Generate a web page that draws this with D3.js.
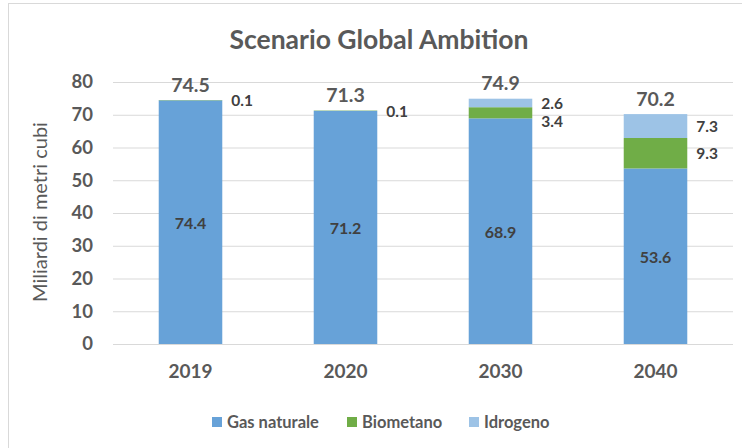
<!DOCTYPE html>
<html>
<head>
<meta charset="utf-8">
<script src="https://cdn.jsdelivr.net/npm/d3@7"></script>
<style>
  body { margin: 0; background: #fff; }
  text { font-family: Lato, "Open Sans", sans-serif; }
</style>
</head>
<body>
<svg id="chart" width="742" height="448"></svg>
<script>
// Data
const years = ["2019", "2020", "2030", "2040"]
const series = ["Gas naturale", "Biometano", "Idrogeno"]
const gasNaturale = [74.4, 71.2, 68.9, 53.6]
const biometano = [0.1, 0.1, 3.4, 9.3]
const idrogeno = [0, 0, 2.6, 7.3]
const totals = [74.5, 71.3, 74.9, 70.2]
const yTicks = [0, 10, 20, 30, 40, 50, 60, 70, 80]
const colours = ["#67A2D8", "#70AD47", "#9DC3E6"]

const svg = d3.select("#chart")
const grey = "#595959"

// frame
svg.append("rect")
    .attr("x", 8.5).attr("y", 3.5)
    .attr("width", 760).attr("height", 460)
    .attr("fill", "none").attr("stroke", "#d9d9d9")

const x = d3.scaleBand().domain(years).range([113, 733]).paddingInner(0.59).paddingOuter(0.295)
const y = d3.scaleLinear().domain([0, 80]).range([344, 82])

// gridlines
svg.append("g").selectAll("line").data(yTicks).join("line")
    .attr("x1", 113).attr("x2", 733)
    .attr("y1", d => y(d) + 0.5).attr("y2", d => y(d) + 0.5)
    .attr("stroke", "#d9d9d9").attr("stroke-width", 1)

// y axis tick labels
const yAxis = svg.append("g").attr("transform", "translate(93,0)")
    .call(d3.axisLeft(y).tickValues(yTicks).tickSize(0).tickPadding(0))
yAxis.select(".domain").remove()
yAxis.selectAll("text")
    .attr("fill", grey).attr("font-size", 18.5).attr("font-weight", "bold")
    .style("font-family", "Lato, sans-serif")

// x axis labels
const xAxis = svg.append("g").attr("transform", "translate(0,364)")
    .call(d3.axisBottom(x).tickSize(0).tickPadding(0))
xAxis.select(".domain").remove()
xAxis.selectAll("text")
    .attr("fill", grey).attr("font-size", 19).attr("font-weight", "bold")
    .style("font-family", "Lato, sans-serif")

// stack
const rows = years.map((yr, i) => ({year: yr, "Gas naturale": gasNaturale[i], "Biometano": biometano[i], "Idrogeno": idrogeno[i]}))
const stacked = d3.stack().keys(series)(rows)

svg.append("g").selectAll("g").data(stacked).join("g")
    .attr("fill", (d, i) => colours[i])
    .selectAll("rect").data(d => d).join("rect")
    .attr("x", d => x(d.data.year))
    .attr("width", x.bandwidth())
    .attr("y", d => y(d[1]))
    .attr("height", d => y(d[0]) - y(d[1]))

// gas labels inside bars
svg.append("g").selectAll("text").data(stacked[0]).join("text")
    .attr("x", d => x(d.data.year) + x.bandwidth() / 2)
    .attr("y", d => (y(d[0]) + y(d[1])) / 2)
    .attr("text-anchor", "middle").attr("dominant-baseline", "central")
    .attr("font-size", 16).attr("font-weight", "bold").attr("fill", "#404040")
    .text(d => d[1] - d[0] > 0 ? d3.format(".1f")(d.data["Gas naturale"]) : "")

// side labels for biometano / idrogeno, pushed apart when too close
years.forEach((yr, i) => {
    let prevY = null
    for (let s = 2; s >= 1; s--) {
        const seg = stacked[s][i]
        const val = rows[i][series[s]]
        if (!val) continue
        let ly = (y(seg[0]) + y(seg[1])) / 2
        if (prevY !== null && ly - prevY < 18) ly = prevY + 18
        prevY = ly
        svg.append("text")
            .attr("x", x(yr) + x.bandwidth() + 9)
            .attr("y", ly)
            .attr("dominant-baseline", "central")
            .attr("font-size", 15.5).attr("font-weight", "bold").attr("fill", "#404040")
            .text(d3.format(".1f")(val))
    }
})

// totals
svg.append("g").selectAll("text").data(totals).join("text")
    .attr("x", (d, i) => x(years[i]) + x.bandwidth() / 2)
    .attr("y", d => y(d) - 16)
    .attr("text-anchor", "middle").attr("dominant-baseline", "central")
    .attr("font-size", 19.5).attr("font-weight", "bold").attr("fill", grey)
    .text(d => d3.format(".1f")(d))

// title
svg.append("text")
    .attr("x", 379).attr("y", 39)
    .attr("text-anchor", "middle").attr("dominant-baseline", "central")
    .attr("font-size", 26.5).attr("font-weight", "bold").attr("fill", grey)
    .text("Scenario Global Ambition")

// y title
svg.append("text")
    .attr("transform", "translate(39,212) rotate(-90)")
    .attr("text-anchor", "middle").attr("dominant-baseline", "central")
    .attr("font-size", 20).attr("fill", grey)
    .text("Miliardi di metri cubi")

// legend
const legendX = [212, 347, 469]
const legend = svg.append("g").selectAll("g").data(series).join("g")
    .attr("transform", (d, i) => `translate(${legendX[i]},422)`)
legend.append("rect")
    .attr("x", 0).attr("y", -5).attr("width", 10).attr("height", 10)
    .attr("fill", (d, i) => colours[i])
legend.append("text")
    .attr("x", 15).attr("y", 0).attr("dominant-baseline", "central")
    .attr("font-size", 16.5).attr("font-weight", "bold").attr("fill", grey)
    .text(d => d)
</script>
</body>
</html>
